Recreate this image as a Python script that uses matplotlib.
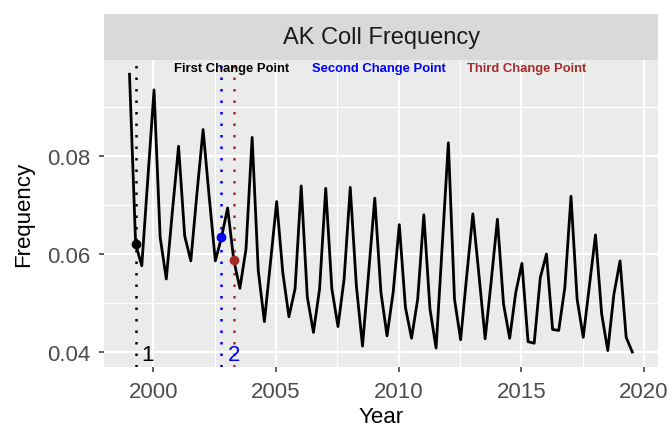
import numpy as np
import matplotlib
matplotlib.use("Agg")
import matplotlib.pyplot as plt

plt.rcParams["font.family"] = ["Liberation Sans", "DejaVu Sans"]

# quarterly frequency, AK collision
years = np.arange(1999.0, 2019.51, 0.25) + 0.03
freq = [
    0.0967, 0.0620, 0.0576, 0.0756,
    0.0935, 0.0634, 0.0549, 0.0688,
    0.0820, 0.0637, 0.0586, 0.0724,
    0.0854, 0.0716, 0.0586, 0.0634,
    0.0694, 0.0588, 0.0530, 0.0610,
    0.0838, 0.0566, 0.0462, 0.0584,
    0.0707, 0.0562, 0.0472, 0.0529,
    0.0739, 0.0512, 0.0440, 0.0529,
    0.0734, 0.0529, 0.0452, 0.0549,
    0.0736, 0.0535, 0.0412, 0.0562,
    0.0714, 0.0522, 0.0433, 0.0522,
    0.0660, 0.0491, 0.0428, 0.0508,
    0.0680, 0.0488, 0.0408, 0.0617,
    0.0827, 0.0508, 0.0425, 0.0556,
    0.0682, 0.0556, 0.0427, 0.0546,
    0.0671, 0.0498, 0.0428, 0.0522,
    0.0581, 0.0421, 0.0418, 0.0552,
    0.0600, 0.0446, 0.0444, 0.0532,
    0.0718, 0.0508, 0.0430, 0.0535,
    0.0639, 0.0478, 0.0403, 0.0518,
    0.0586, 0.0430, 0.0400,
]

# change points: index into series, colour, label
cp_idx = [1, 15, 17]
cp_colors = ["black", "blue", "#A52A2A"]
cp_names = ["First Change Point", "Second Change Point", "Third Change Point"]
cp_name_x = [2003.21, 2009.21, 2015.22]
cp_numbers = ["1", "2"]

fig = plt.figure(figsize=(6.72, 4.31), dpi=100)
ax = fig.add_axes([104 / 672, 63 / 431, 554.3 / 672, 307 / 431])
strip = fig.add_axes([104 / 672, (431 - 61) / 431, 554.3 / 672, 46 / 431])

ax.set_facecolor("#EBEBEB")
for s in ax.spines.values():
    s.set_visible(False)

ax.set_xlim(1997.99, 2020.59)
ax.set_ylim(0.03694, 0.0996)
ax.set_xticks([2000, 2005, 2010, 2015, 2020])
ax.set_xticks([2002.5, 2007.5, 2012.5, 2017.5], minor=True)
ax.set_yticks([0.04, 0.06, 0.08])
ax.set_yticks([0.05, 0.07, 0.09], minor=True)
ax.set_yticklabels(["0.04", "0.06", "0.08"])
ax.grid(which="major", color="white", lw=1.6)
ax.grid(which="minor", color="white", lw=0.8)
ax.set_axisbelow(True)
ax.tick_params(which="major", length=3.5, width=1.1, color="#333333",
               labelcolor="#4D4D4D", labelsize=16, pad=6.5)
ax.tick_params(which="minor", length=0)

for i, c in zip(cp_idx, cp_colors):
    ax.axvline(years[i], color=c, lw=1.8, ls=(0, (1, 3.6)), zorder=2)

ax.plot(years, freq, color="black", lw=2.0, zorder=3)

for i, c in zip(cp_idx, cp_colors):
    ax.plot(years[i], freq[i], "o", color=c, ms=6, zorder=4)

for name, x, c in zip(cp_names, cp_name_x, cp_colors):
    ax.text(x, 0.09796, name, color=c, fontsize=9.4, fontweight="bold",
            ha="center", va="center")

for num, i, c in zip(cp_numbers, cp_idx, cp_colors):
    ax.text(years[i] + 0.5, 0.0394, num, color=c, fontsize=16,
            ha="center", va="center")

ax.set_xlabel("Year", fontsize=16, color="black", labelpad=3)
ax.set_ylabel("Frequency", fontsize=16, color="black", labelpad=9.5)

strip.set_facecolor("#D9D9D9")
strip.set_xticks([])
strip.set_yticks([])
for s in strip.spines.values():
    s.set_visible(False)
strip.text(0.5, 0.5, "AK Coll Frequency", fontsize=17, color="#1A1A1A",
           ha="center", va="center", transform=strip.transAxes)

fig.savefig("out.png", dpi=100)
